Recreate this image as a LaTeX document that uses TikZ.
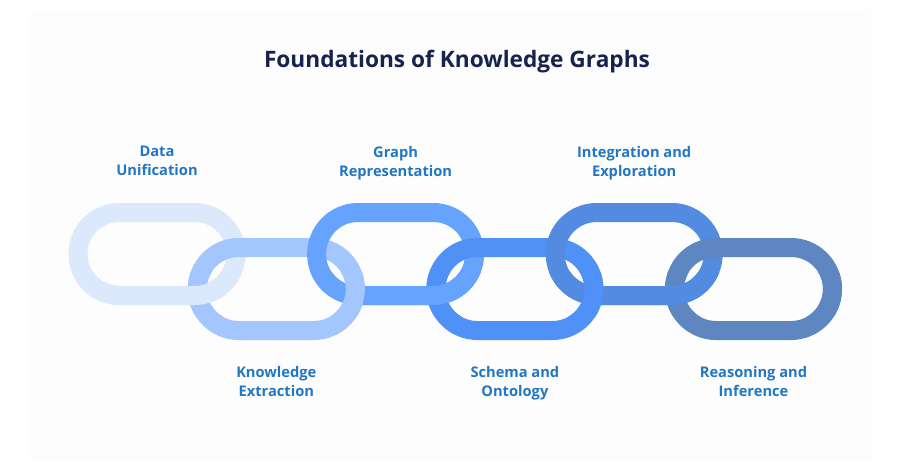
\documentclass[tikz,border=0pt]{standalone}
\usepackage{fontspec}
\setmainfont{Open Sans}
\definecolor{titleblue}{HTML}{17234F}
\definecolor{labelblue}{HTML}{2177C4}
\definecolor{panelgray}{HTML}{FDFDFE}
\definecolor{linkA}{HTML}{DCE8FC}
\definecolor{linkB}{HTML}{A3C6FF}
\definecolor{linkC}{HTML}{66A3FF}
\definecolor{linkD}{HTML}{4F91F6}
\definecolor{linkE}{HTML}{528BDF}
\definecolor{linkF}{HTML}{5E86C0}
\tikzset{
  chainlink/.style={line width=14.25pt, rounded corners=31.1pt},
  steplabel/.style={text=labelblue, font=\bfseries\fontsize{11}{14.25}\selectfont, align=center, anchor=north},
  titletext/.style={text=titleblue, font=\bfseries\fontsize{17}{20}\selectfont},
}
\newcommand{\drawlink}[3]{\draw[chainlink,#3] ({#1-79},{#2-41.5}) rectangle ({#1+79},{#2+41.5});}

\begin{document}
\begin{tikzpicture}[x=0.75pt,y=-0.75pt]
	\useasboundingbox (0,0) rectangle (901,471);
	\fill[white] (0,0) rectangle (901,471);
	\fill[panelgray] (30,10) rectangle (871,461);

	\node[titletext] (title) at (457,62) {Foundations of Knowledge Graphs};

	% the links, later ones on top
	\foreach \x/\y/\c in {157/254/linkA, 276.3/289/linkB, 395.6/254/linkC, 514.9/289/linkD, 634.2/254/linkE, 753.5/289/linkF}
		\drawlink{\x}{\y}{draw=\c};
	% lower crossings: earlier link on top
	\begin{scope}
		\clip (0,272) rectangle (901,316);
		\foreach \x/\y/\c in {753.5/289/linkF, 634.2/254/linkE, 514.9/289/linkD, 395.6/254/linkC, 276.3/289/linkB, 157/254/linkA}
			\drawlink{\x}{\y}{draw=\c};
	\end{scope}

	\node[steplabel] (unify) at (157,141.8) {Data\\Unification};
	\node[steplabel] (graphrep) at (395.6,141.8) {Graph\\Representation};
	\node[steplabel] (integrate) at (634.2,141.8) {Integration and\\Exploration};
	\node[steplabel] (extract) at (276.3,361.8) {Knowledge\\Extraction};
	\node[steplabel] (schema) at (514.9,361.8) {Schema and\\Ontology};
	\node[steplabel] (reason) at (753.5,361.8) {Reasoning and\\Inference};
\end{tikzpicture}
\end{document}
